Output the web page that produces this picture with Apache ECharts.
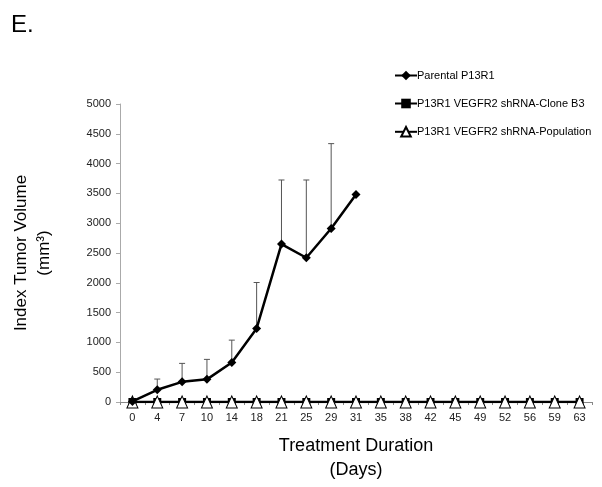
<!DOCTYPE html>
<html><head><meta charset="utf-8">
<script src="https://cdn.jsdelivr.net/npm/echarts@6/dist/echarts.min.js"></script>
<style>html,body{margin:0;padding:0;background:#fff}#c{width:602px;height:487px}</style>
</head><body><div id="c"></div>
<script>
const days = ['0','4','7','10','14','18','21','25','29','31','35','38','42','45','49','52','56','59','63'];
const parental = [10,205,338,380,664,1235,2650,2420,2910,3480];
const parentalUpper = [null,385,648,715,1038,2005,3725,3725,4335,null];
const cloneB3 = [0,0,0,0,0,0,0,0,0,0,0,0,0,0,0,0,0,0,0];
const population = [0,0,0,0,0,0,0,0,0,0,0,0,0,0,0,0,0,0,0];
const yTicks = [0,500,1000,1500,2000,2500,3000,3500,4000,4500,5000];

const font = 'Arial, "Liberation Sans", sans-serif';
const chart = echarts.init(document.getElementById('c'));
const errData = parental.map((v,i)=>[i, v, parentalUpper[i]]).filter(d=>d[2]!=null);
chart.setOption({
  animation:false,
  title:{text:'E.', left:6, top:8, textStyle:{fontFamily:font, fontSize:24, fontWeight:'normal', color:'#000'}},
  grid:{left:120, right:10, top:104, bottom:85},
  legend:{
    orient:'vertical', left:389, top:65, itemGap:17, itemWidth:22, itemHeight:12,
    textStyle:{fontFamily:font, fontSize:11, color:'#000', padding:[0,0,0,-5]},
    data:['Parental P13R1','P13R1 VEGFR2 shRNA-Clone B3','P13R1 VEGFR2 shRNA-Population']
  },
  xAxis:{
    type:'category', data:days, boundaryGap:true,
    axisLine:{lineStyle:{color:'#888', width:1}},
    axisTick:{show:true, length:3, lineStyle:{color:'#888'}},
    axisLabel:{fontFamily:font, fontSize:11, color:'#222', margin:10},
    name:'Treatment Duration\n(Days)', nameLocation:'middle', nameGap:32,
    nameTextStyle:{fontFamily:font, fontSize:18, color:'#000', lineHeight:24}
  },
  yAxis:{
    type:'value', min:0, max:5000, interval:500,
    axisLine:{show:true, lineStyle:{color:'#aaa'}},
    axisTick:{show:true, length:4, lineStyle:{color:'#aaa'}},
    splitLine:{show:false},
    axisLabel:{fontFamily:font, fontSize:11, color:'#222', margin:9, formatter:v=>String(v)},
    name:'Index Tumor Volume\n(mm³)', nameLocation:'middle', nameGap:64,
    nameTextStyle:{fontFamily:font, fontSize:17, color:'#000', lineHeight:23}
  },
  series:[
    {
      type:'custom', name:'err', silent:true, z:1,
      renderItem:(params, api)=>{
        const p0 = api.coord([api.value(0), api.value(1)]);
        const p1 = api.coord([api.value(0), api.value(2)]);
        return {type:'group', children:[
          {type:'line', shape:{x1:p0[0],y1:p0[1],x2:p1[0],y2:p1[1]}, style:{stroke:'#555', lineWidth:1}},
          {type:'line', shape:{x1:p1[0]-3,y1:p1[1],x2:p1[0]+3,y2:p1[1]}, style:{stroke:'#555', lineWidth:1}}
        ]};
      },
      data:errData
    },
    {
      type:'line', name:'Parental P13R1', data:parental, z:5,
      symbol:'diamond', symbolSize:9, color:'#000',
      lineStyle:{color:'#000', width:2.5}, itemStyle:{color:'#000'}
    },
    {
      type:'line', name:'P13R1 VEGFR2 shRNA-Clone B3', data:cloneB3, z:3,
      symbol:'rect', symbolSize:8, color:'#000',
      lineStyle:{color:'#000', width:2.5}, itemStyle:{color:'#000'}
    },
    {
      type:'line', name:'P13R1 VEGFR2 shRNA-Population', data:population, z:4,
      symbol:'triangle', symbolSize:[11,12], color:'#000',
      lineStyle:{color:'#000', width:1.5}, itemStyle:{color:'#fff', borderColor:'#000', borderWidth:1}
    }
  ]
});
</script></body></html>
